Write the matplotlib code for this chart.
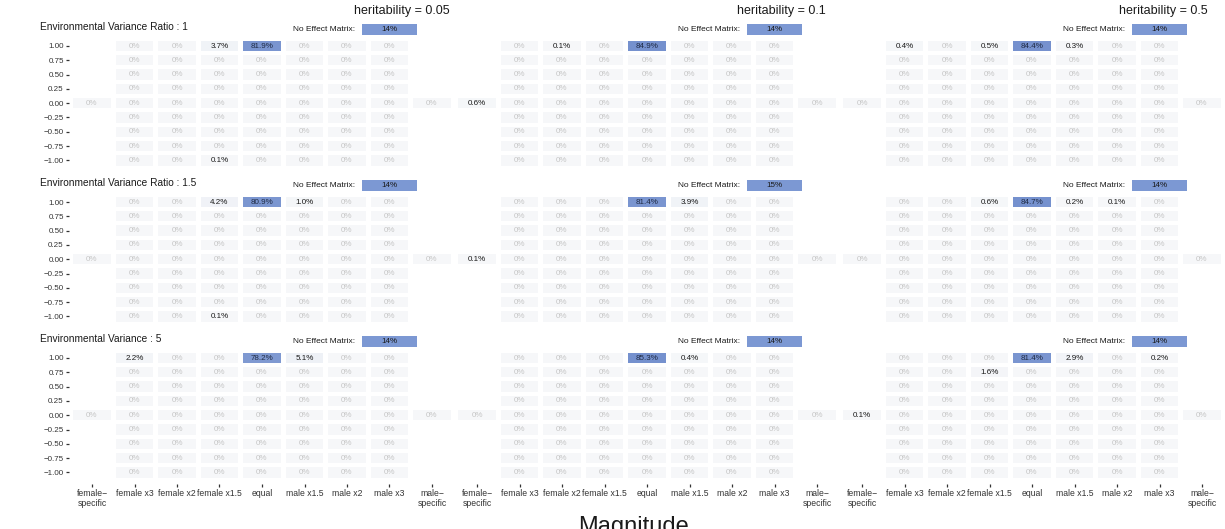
import numpy as np
import matplotlib
matplotlib.use("Agg")
import matplotlib.pyplot as plt
from matplotlib.colors import LinearSegmentedColormap, Normalize

plt.rcParams['font.family'] = ['Liberation Sans', 'DejaVu Sans']

# %%
heritability = ["0.05", "0.1", "0.5"]
env_titles = ["Environmental Variance Ratio : 1",
              "Environmental Variance Ratio : 1.5",
              "Environmental Variance : 5"]
magnitudes = ["female-specific", "female x3", "female x2", "female x1.5", "equal",
              "male x1.5", "male x2", "male x3", "male-specific"]
mag_labels = ["female\u2212\nspecific", "female x3", "female x2", "female x1.5", "equal",
              "male x1.5", "male x2", "male x3", "male\u2212\nspecific"]
correlations = [1.00, 0.75, 0.50, 0.25, 0.00, -0.25, -0.50, -0.75, -1.00]
corr_labels = ["1.00", "0.75", "0.50", "0.25", "0.00",
               "\u22120.25", "\u22120.50", "\u22120.75", "\u22121.00"]

# share of simulations picking the "no effect" matrix (%), rows = env, cols = h2
no_effect = [[14, 14, 14],
             [14, 15, 14],
             [14, 14, 14]]

# non-zero detection rates (%), every other cell is 0
# (env row, h2 column, magnitude, correlation, percent)
hits = [
    (0, 0, "female x1.5", 1.00, 3.7),
    (0, 0, "equal", 1.00, 81.9),
    (0, 0, "female x1.5", -1.00, 0.1),
    (0, 1, "female-specific", 0.00, 0.6),
    (0, 1, "female x2", 1.00, 0.1),
    (0, 1, "equal", 1.00, 84.9),
    (0, 2, "female x3", 1.00, 0.4),
    (0, 2, "female x1.5", 1.00, 0.5),
    (0, 2, "equal", 1.00, 84.4),
    (0, 2, "male x1.5", 1.00, 0.3),
    (1, 0, "female x1.5", 1.00, 4.2),
    (1, 0, "equal", 1.00, 80.9),
    (1, 0, "male x1.5", 1.00, 1.0),
    (1, 0, "female x1.5", -1.00, 0.1),
    (1, 1, "female-specific", 0.00, 0.1),
    (1, 1, "equal", 1.00, 81.4),
    (1, 1, "male x1.5", 1.00, 3.9),
    (1, 2, "female x1.5", 1.00, 0.6),
    (1, 2, "equal", 1.00, 84.7),
    (1, 2, "male x1.5", 1.00, 0.2),
    (1, 2, "male x2", 1.00, 0.1),
    (2, 0, "female x3", 1.00, 2.2),
    (2, 0, "equal", 1.00, 78.2),
    (2, 0, "male x1.5", 1.00, 5.1),
    (2, 1, "equal", 1.00, 85.3),
    (2, 1, "male x1.5", 1.00, 0.4),
    (2, 2, "female-specific", 0.00, 0.1),
    (2, 2, "female x1.5", 0.75, 1.6),
    (2, 2, "equal", 1.00, 81.4),
    (2, 2, "male x1.5", 1.00, 2.9),
    (2, 2, "male x3", 1.00, 0.2),
]

# %%
W, H = 1225, 529
fig = plt.figure(figsize=(W / 100, H / 100), dpi=100)

def px_axes(left, top, width, height):
    return fig.add_axes([left / W, 1 - (top + height) / H, width / W, height / H])

def fig_text(x, y, s, **kw):
    fig.text(x / W, 1 - y / H, s, **kw)

cmap = LinearSegmentedColormap.from_list("tiles", ["#f6f7f9", "#7591ce"])
norm = Normalize(0, 85)

UX, UY = 42.5, 57.2            # pixels per category / per unit correlation
col0 = [92, 477, 862]          # first column centre of each h2 panel
row_top = [46, 202, 358]       # y of correlation 1.00 in each env row

for ei in range(3):
    for hi in range(3):
        ax = px_axes(col0[hi] - 0.55 * UX, row_top[ei] - 0.42 * UY, 9.1 * UX, 2.62 * UY)
        ax.set_xlim(-0.55, 8.55)
        ax.set_ylim(-1.2, 1.42)

        # fill the grid for this panel
        grid = {}
        for mi, m in enumerate(magnitudes):
            for c in correlations:
                if m.endswith("specific") and c != 0.0:
                    continue
                grid[(mi, c)] = 0.0
        for e, h, m, c, v in hits:
            if e == ei and h == hi:
                grid[(magnitudes.index(m), c)] = v

        for (mi, c), v in grid.items():
            ax.bar(mi, 0.18, bottom=c - 0.09, width=0.88,
                   color=cmap(norm(v)), edgecolor="none")
            if v == 0:
                label, tc = "0%", "#c6c6c6"
            else:
                label, tc = f"{v:.1f}%", "#1f2a44" if v > 40 else "#1a1a1a"
            ax.text(mi, c, label, ha="center", va="center", fontsize=5.8, color=tc)

        # no effect matrix box above the male x3 column
        ne_y = 1.29
        ax.bar(7, 0.2, bottom=ne_y - 0.1, width=1.3, color="#7c98d3",
               edgecolor="none", clip_on=False)
        ax.text(7, ne_y, f"{no_effect[ei][hi]}%", ha="center", va="center",
                fontsize=5.8, color="#1a1a1a")
        ax.text(7 - 0.82, ne_y, "No Effect Matrix:", ha="right", va="center",
                fontsize=6, color="#1a1a1a")

        for s in ax.spines.values():
            s.set_visible(False)

        if hi == 0:
            ax.set_yticks(correlations)
            ax.set_yticklabels(corr_labels)
            ax.tick_params(axis="y", length=2, width=0.9, color="#333333",
                           pad=1.5, labelsize=5.8, labelcolor="#333333")
        else:
            ax.set_yticks([])
        if ei == 2:
            ax.set_xticks(range(len(magnitudes)))
            ax.set_xticklabels(mag_labels)
            ax.tick_params(axis="x", length=2, width=0.9, color="#333333",
                           pad=1.5, labelsize=6.2, labelcolor="#333333")
        else:
            ax.set_xticks([])

    fig_text(40, row_top[ei] - 19, env_titles[ei], ha="left", va="center",
             fontsize=7.3, color="#1a1a1a")

for hi, right in enumerate([450, 826, 1208]):
    fig_text(right, 11, f"heritability = {heritability[hi]}", ha="right",
             va="center", fontsize=9, color="#1a1a1a")

fig_text(634, 516, "Magnitude", ha="center", va="top", fontsize=17, color="#1a1a1a")

fig.savefig("out.png", dpi=100)
